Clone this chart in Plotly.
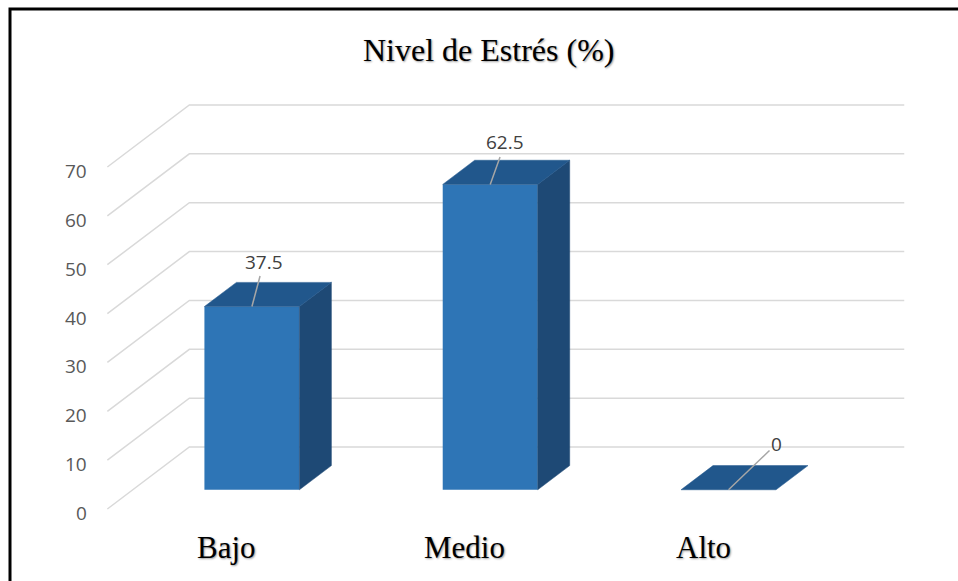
import plotly.graph_objects as go

# ---- data ----
categories = ["Bajo", "Medio", "Alto"]
values = [37.5, 62.5, 0]
value_labels = ["37.5", "62.5", "0"]
tick_values = [0, 10, 20, 30, 40, 50, 60, 70]
tick_labels = ["0", "10", "20", "30", "40", "50", "60", "70"]
title_text = "Nivel de Estrés (%)"

# ---- pseudo-3D projection settings (styles) ----
W, H = 958, 581
PX_PER_CAT = 238.3          # pixels per category step
X_CAT0 = 226.5              # pixel of category 0 (front plane)
PX_PER_UNIT = 4.886         # pixels per value unit
Y_ZERO = 509                # pixel of value 0 (front plane)
DEPTH_DX = 82 / PX_PER_CAT  # depth offset in category units
DEPTH_DY = 62 / PX_PER_UNIT # depth offset in value units
D0, D1 = 0.31, 0.70         # bar depth (front/back)
BAR_W = 95 / PX_PER_CAT

FRONT = "#2E75B6"
TOP = "#21578C"
SIDE = "#1E4975"
GRID = "#D9D9D9"

xr = [(0 - X_CAT0) / PX_PER_CAT, (W - X_CAT0) / PX_PER_CAT]
yr = [-(H - Y_ZERO) / PX_PER_UNIT, Y_ZERO / PX_PER_UNIT]

fig = go.Figure()
n = len(categories)

shapes = []
# gridlines: side wall diagonal + back wall horizontal (below the bars)
for v in tick_values:
    x0, x1, x2 = -0.5, -0.5 + DEPTH_DX, n - 0.5 + DEPTH_DX
    y0, y1 = v, v + DEPTH_DY
    shapes.append(dict(type="path", xref="x", yref="y", layer="below",
                       path=f"M {x0} {y0} L {x1} {y1} L {x2} {y1}",
                       line=dict(color=GRID, width=1.5)))

cx = list(range(n))
dx0, dy0 = DEPTH_DX * D0, DEPTH_DY * D0
dx1, dy1 = DEPTH_DX * D1, DEPTH_DY * D1

# side faces
for c, v in zip(cx, values):
    r = c + BAR_W / 2
    if v > 0:
        fig.add_trace(go.Scatter(
            x=[r + dx0, r + dx0, r + dx1, r + dx1, r + dx0],
            y=[dy0, v + dy0, v + dy1, dy1, dy0],
            mode="lines", fill="toself", fillcolor=SIDE,
            line=dict(color=SIDE, width=0.5),
            hoverinfo="skip", showlegend=False))

# front faces
fig.add_trace(go.Bar(
    x=[c + dx0 for c in cx], y=values, base=[dy0] * n, width=BAR_W,
    marker=dict(color=FRONT, line=dict(width=0)),
    hoverinfo="skip", showlegend=False))

# top faces
for c, v in zip(cx, values):
    l, r = c - BAR_W / 2, c + BAR_W / 2
    fig.add_trace(go.Scatter(
        x=[l + dx0, r + dx0, r + dx1, l + dx1, l + dx0],
        y=[v + dy0, v + dy0, v + dy1, v + dy1, v + dy0],
        mode="lines", fill="toself", fillcolor=TOP,
        line=dict(color=TOP, width=0.5),
        hoverinfo="skip", showlegend=False))

annotations = []
# y tick labels
for v, t in zip(tick_values, tick_labels):
    annotations.append(dict(x=-0.5, y=v, xref="x", yref="y", text=t,
                            showarrow=False, xanchor="right", yanchor="middle",
                            xshift=-18, yshift=-4,
                            font=dict(family="Open Sans, Liberation Sans", size=19, color="#595959")))
# category labels
for c, t in zip(cx, categories):
    annotations.append(dict(x=c, y=0, xref="x", yref="y", text=t,
                            showarrow=False, xanchor="center", yanchor="middle",
                            yshift=-38,
                            font=dict(family="Liberation Serif, Times New Roman", size=31, color="#000000",
                                      shadow="1px 1px 2px #9a9a9a")))
# data labels with leader lines
offsets = [(12, -45), (15, -42), (48, -46)]
for c, v, t, (ax, ay) in zip(cx, values, value_labels, offsets):
    annotations.append(dict(x=c + dx0, y=v + dy0, xref="x", yref="y", text=t,
                            showarrow=True, arrowhead=0, arrowwidth=1.5, arrowcolor="#A6A6A6",
                            ax=ax, ay=ay, standoff=0,
                            font=dict(family="Open Sans, Liberation Sans", size=19, color="#404040")))
# title
annotations.append(dict(x=488 / W, y=1 - 50 / H, xref="paper", yref="paper", text=title_text,
                        showarrow=False, xanchor="center", yanchor="middle",
                        font=dict(family="Liberation Serif, Times New Roman", size=32, color="#000000",
                                  shadow="1px 1px 2px #9a9a9a")))

shapes.append(dict(type="path", xref="paper", yref="paper",
                   path=f"M {10/W} {-0.05} L {10/W} {1-9/H} L {1.05} {1-9/H}",
                   line=dict(color="black", width=3)))

fig.update_layout(
    width=W, height=H,
    margin=dict(l=0, r=0, t=0, b=0),
    paper_bgcolor="white", plot_bgcolor="white",
    xaxis=dict(range=xr, visible=False, fixedrange=True),
    yaxis=dict(range=yr, visible=False, fixedrange=True),
    annotations=annotations, shapes=shapes,
    barmode="overlay",
)

fig.write_html("out.html")
